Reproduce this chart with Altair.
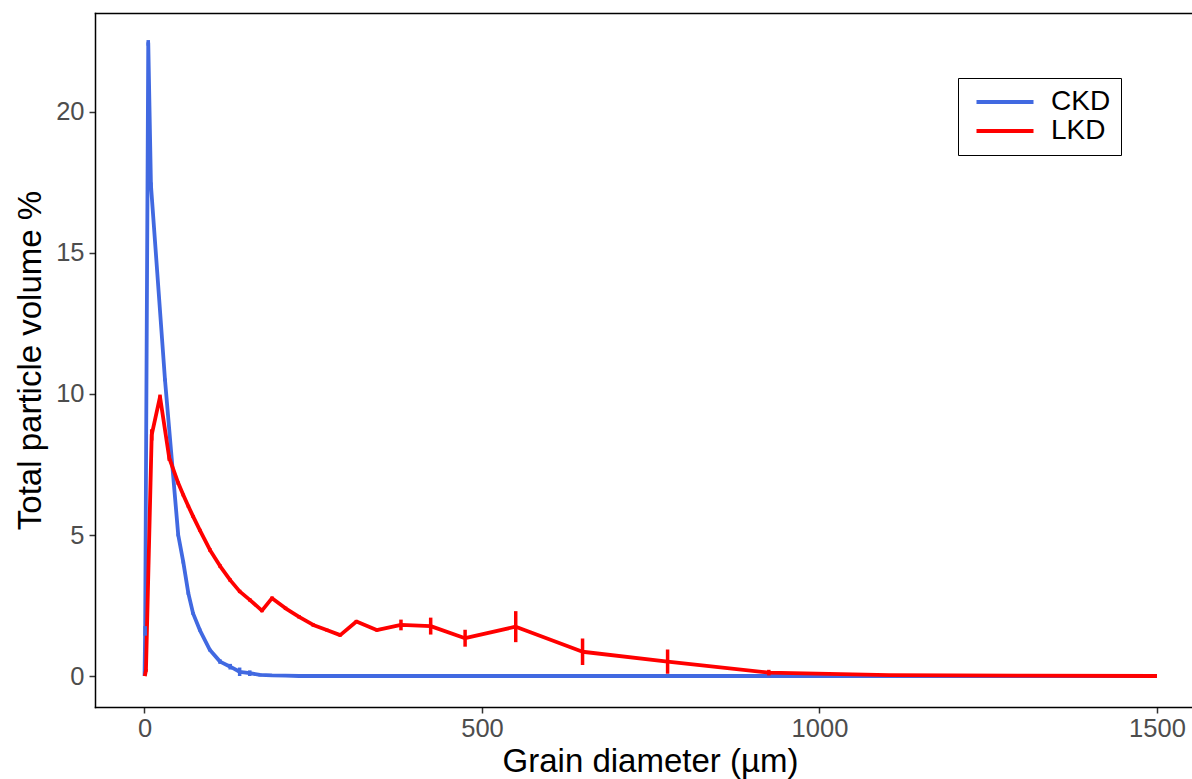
import altair as alt
import pandas as pd

# Particle size distributions (grain diameter in µm, volume %), with error half-widths
ckd_size = [0.1, 1.0, 5.6, 9.6, 30.4, 50, 57.5, 65, 72, 82, 97, 112, 127, 141, 156,
            171, 189, 209, 229, 250, 270, 290, 314, 344, 380, 424, 475, 550, 649,
            775, 925, 1103, 1304, 1500]
ckd_vol = [0.0, 1.6, 22.45, 17.4, 10.5, 5.0, 4.04, 2.93, 2.22, 1.63, 0.92, 0.51, 0.33,
           0.15, 0.10, 0.04, 0.02, 0.01, 0.0, 0.0, 0.0, 0.0, 0.0, 0.0, 0.0, 0.0, 0.0,
           0.0, 0.0, 0.0, 0.0, 0.0, 0.0, 0.0]
ckd_err = [0.0, 0.17, 0.1, 0.1, 0.05, 0.05, 0.05, 0.05, 0.05, 0.05, 0.05, 0.08, 0.1,
           0.15, 0.1, 0.05, 0.03, 0.02, 0.0, 0.0, 0.0, 0.0, 0.0, 0.0, 0.0, 0.0, 0.0,
           0.0, 0.0, 0.0, 0.0, 0.0, 0.0, 0.0]

lkd_size = [0.5, 2.2, 10.7, 23, 36.7, 50, 57.5, 65, 72, 82, 97, 112, 127, 141, 156,
            174, 189, 209, 229, 250, 270, 290, 314, 344, 380, 424, 475, 550, 649,
            775, 925, 1103, 1304, 1500]
lkd_vol = [0.0, 0.2, 8.55, 9.9, 7.73, 6.84, 6.42, 6.02, 5.66, 5.17, 4.47, 3.90, 3.40,
           3.00, 2.70, 2.32, 2.76, 2.40, 2.10, 1.81, 1.63, 1.45, 1.93, 1.63, 1.81,
           1.77, 1.34, 1.75, 0.86, 0.51, 0.12, 0.03, 0.01, 0.0]
lkd_err = [0.0, 0.05, 0.2, 0.08, 0.1, 0.06, 0.05, 0.05, 0.05, 0.05, 0.06, 0.06, 0.06,
           0.06, 0.06, 0.06, 0.06, 0.06, 0.06, 0.06, 0.05, 0.05, 0.06, 0.05, 0.19,
           0.30, 0.30, 0.55, 0.47, 0.43, 0.1, 0.02, 0.0, 0.0]

series_names = ["CKD", "LKD"]
series_colors = ["#4169E1", "#FF0000"]

frames = []
for name, size, vol, err in [("CKD", ckd_size, ckd_vol, ckd_err),
                             ("LKD", lkd_size, lkd_vol, lkd_err)]:
    d = pd.DataFrame({"size": size, "vol": vol, "err": err})
    d["series"] = name
    d["lo"] = d["vol"] - d["err"]
    d["hi"] = d["vol"] + d["err"]
    frames.append(d)
df = pd.concat(frames, ignore_index=True)

font = "Liberation Sans"
frame_style = dict(domain=True, domainColor="black", domainWidth=1.5, domainCap="square")

x_scale = alt.Scale(domain=[-73.3, 1551.9], nice=False, zero=False)
y_scale = alt.Scale(domain=[-1.099, 23.51], nice=False, zero=False)
color_scale = alt.Scale(domain=series_names, range=series_colors)

x_axis = alt.Axis(
    values=[0, 500, 1000, 1500], format="d", title="Grain diameter (µm)", grid=False,
    labelFontSize=25.5, labelColor="#4D4D4D", labelFont=font, labelPadding=3,
    tickColor="#333333", tickSize=6, tickWidth=1.5,
    titleFontSize=33, titleFont=font, titleColor="black", titleFontWeight="normal",
    titleX=555, titleY=64, titleAlign="center", titleBaseline="alphabetic",
    **frame_style,
)
# top edge of the panel frame
x_axis_top = alt.Axis(orient="top", labels=False, ticks=False, title=None, grid=False,
                      **frame_style)
y_axis = alt.Axis(
    values=[0, 5, 10, 15, 20], format="d", title="Total particle volume %", grid=False,
    labelFontSize=25.5, labelColor="#4D4D4D", labelFont=font, labelPadding=5,
    tickColor="#333333", tickSize=6, tickWidth=1.5,
    titleFontSize=33, titleFont=font, titleColor="black", titleFontWeight="normal",
    titleX=-65, titleY=347, titleAngle=270, titleAlign="center", titleBaseline="middle",
    **frame_style,
)

# Legend key: a wide horizontal stroke drawn as a custom path on a small symbol box
legend = alt.Legend(
    title=None, orient="none", legendX=863, legendY=65,
    symbolType="M-3,0H3", symbolSize=361, symbolStrokeWidth=4,
    symbolOffset=23, labelOffset=32,
    labelFontSize=28, labelFont=font, labelColor="black",
    rowPadding=1, padding=10,
    strokeColor="black", fillColor="white",
)

base = alt.Chart(df)

lines = base.mark_line(strokeWidth=3.8, strokeJoin="round").encode(
    x=alt.X("size:Q", scale=x_scale, axis=x_axis),
    y=alt.Y("vol:Q", scale=y_scale, axis=y_axis),
    color=alt.Color("series:N", scale=color_scale, legend=legend),
    order="size:Q",
)

bars = base.mark_rule(strokeWidth=3.5).encode(
    x=alt.X("size:Q", axis=x_axis_top),
    y="lo:Q",
    y2="hi:Q",
    color=alt.Color("series:N", scale=color_scale, legend=None),
)

chart = alt.layer(lines, bars).resolve_axis(x="independent").properties(
    width=1097, height=694,
    autosize=alt.AutoSizeParams(type="none"),
    padding={"left": 95, "top": 13, "right": 0, "bottom": 72},
    background="white",
).configure_view(stroke=None)

chart.save("out.html", embed_options={"renderer": "svg", "actions": False})
